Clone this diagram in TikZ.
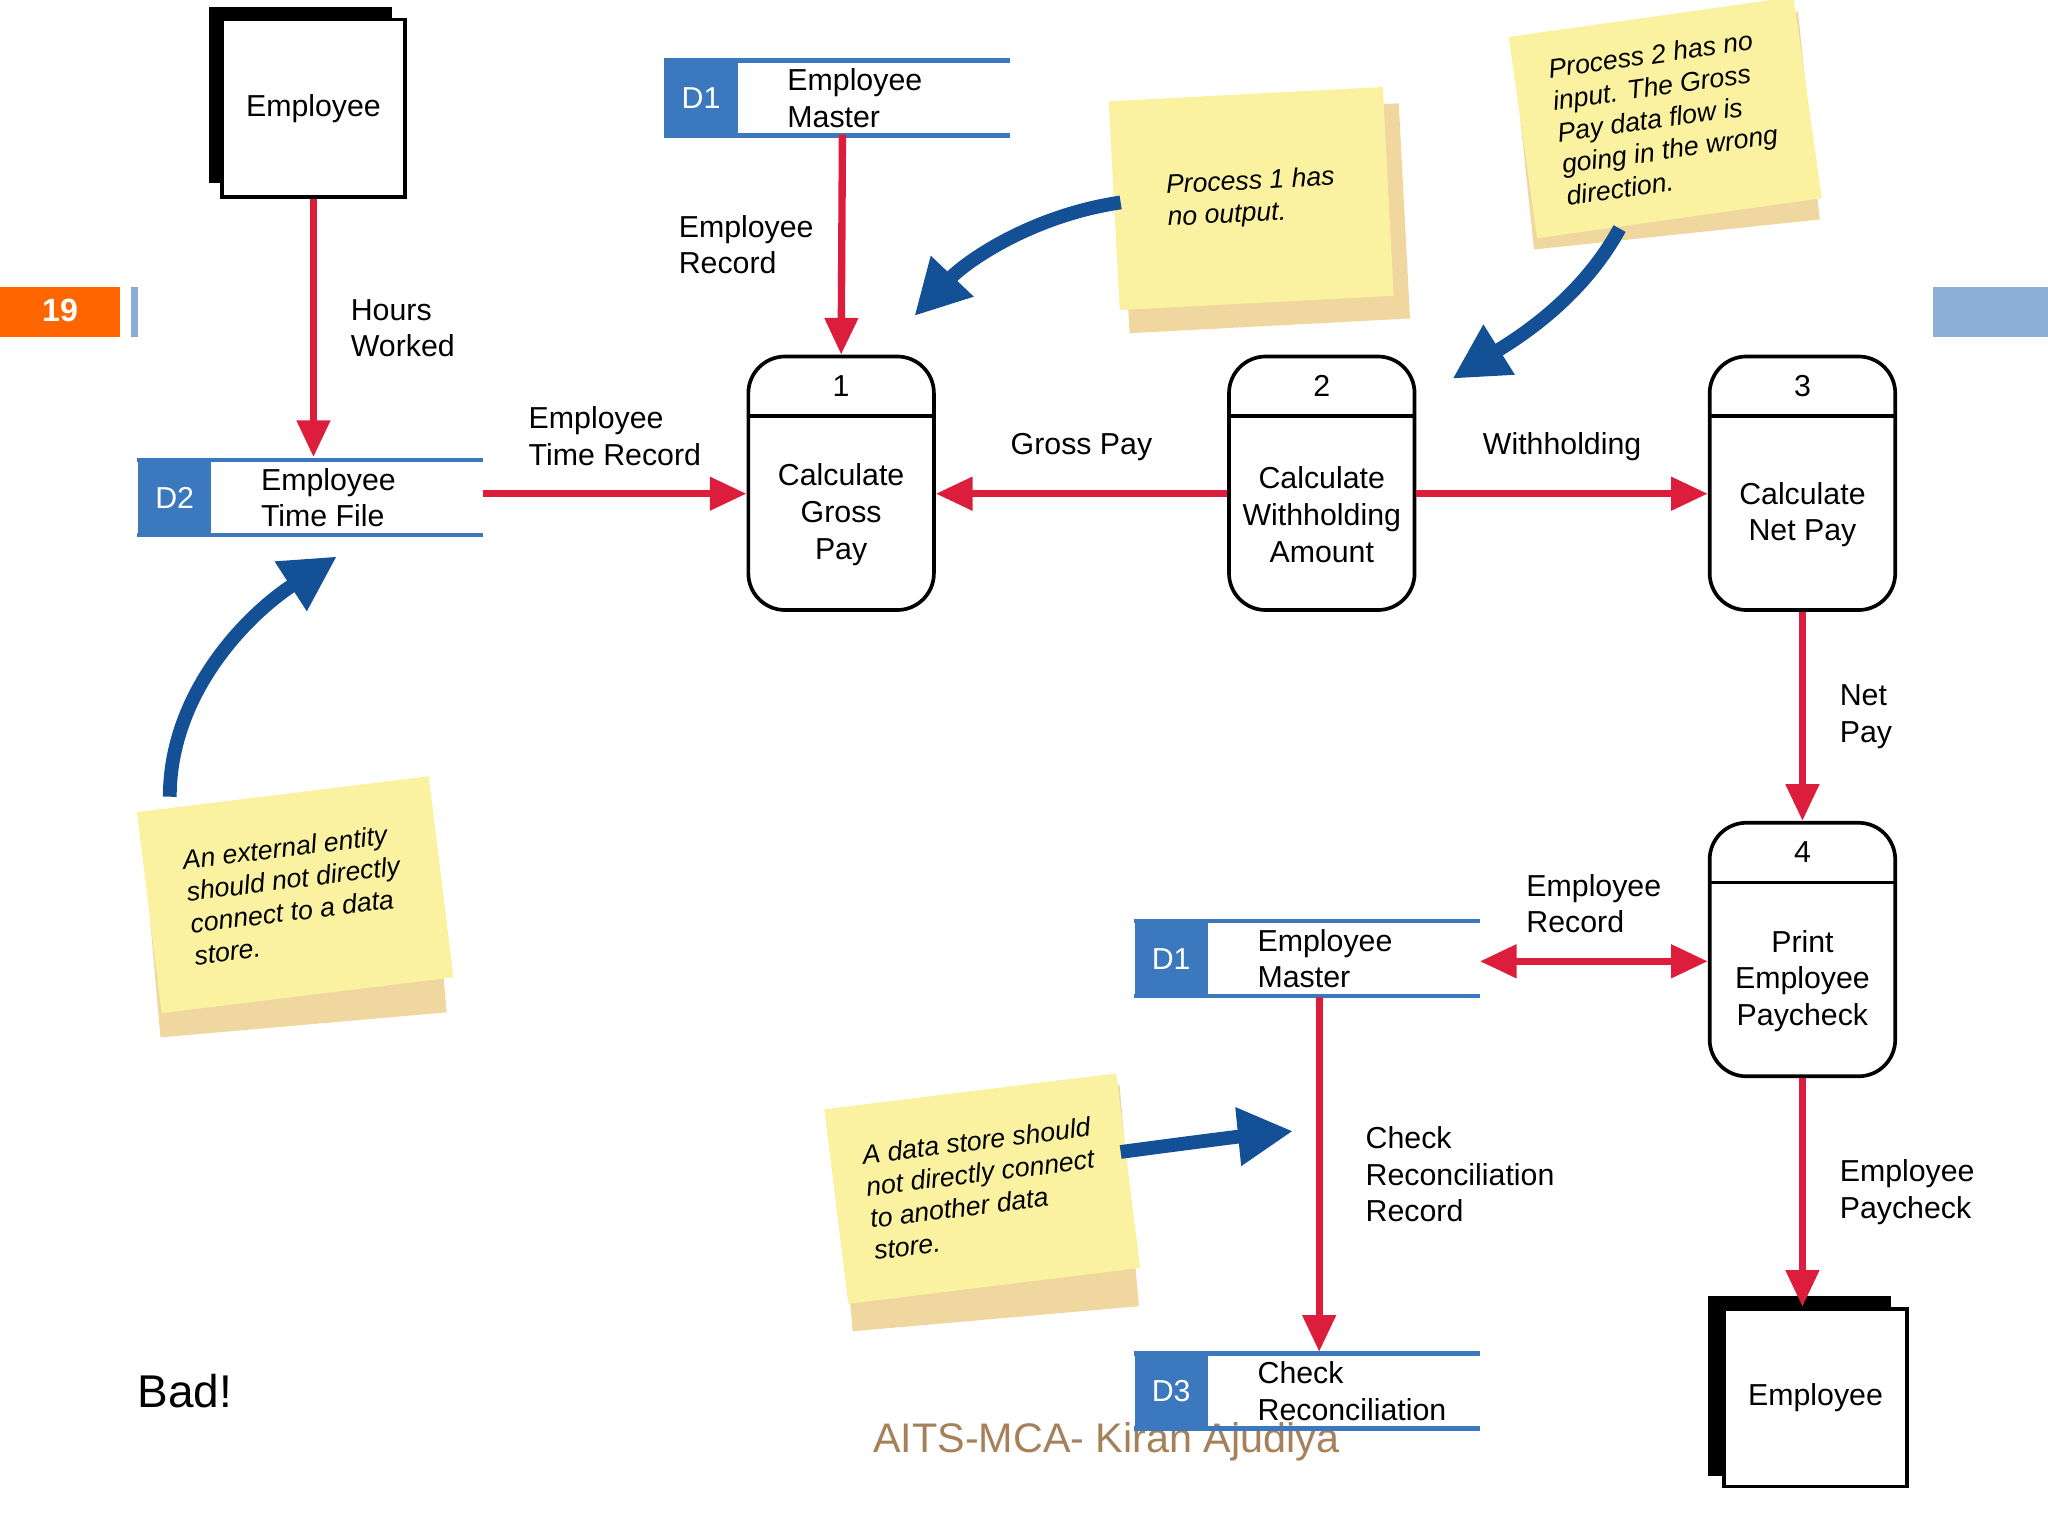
\documentclass[tikz,border=0pt]{standalone}
\usepackage{fontspec}
\setmainfont{Liberation Sans}
\usetikzlibrary{positioning, arrows.meta}
\definecolor{flowred}{RGB}{220,30,60}
\definecolor{storeblue}{RGB}{60,120,190}
\definecolor{noteyellow}{RGB}{250,242,160}
\definecolor{noteshadow}{RGB}{240,215,160}
\definecolor{arcblue}{RGB}{20,80,150}
\tikzset{
  flow/.style={draw=flowred, line width=1.6pt, -{Triangle[length=8pt,width=7pt]}},
  lbl/.style={font=\fontsize{6.6}{8}\selectfont, align=left},
  proc/.style={draw, rounded corners=8pt, line width=0.8pt, minimum width=1.42cm, minimum height=1.94cm, fill=white},
  entity/.style={draw, line width=0.8pt, minimum width=1.4cm, minimum height=1.36cm, fill=white, font=\fontsize{6.6}{8}\selectfont},
  storeid/.style={fill=storeblue, text=white, minimum width=0.56cm, minimum height=0.56cm, inner sep=0pt, font=\fontsize{6.6}{8}\selectfont},
  note/.style={fill=noteyellow, align=left, font=\fontsize{5.8}{7}\itshape, inner sep=6pt},
  hint/.style={draw=arcblue, line width=3pt, -{Triangle[length=12pt,width=12pt]}}
}
\begin{document}
\begin{tikzpicture}[x=0.01cm, y=-0.01cm]
\useasboundingbox (0,0) rectangle (1568,1176);

% slide furniture
\fill[orange!80!red] (0,220) rectangle (92,258);
\node[text=white, font=\bfseries\scriptsize] (num) at (46,238) {19};
\draw[storeblue!60, line width=1.5pt] (103,220) -- (103,258);
\fill[storeblue!60] (1480,220) rectangle (1568,258);
\node[font=\normalsize, anchor=west] (bad) at (93,1065) {Bad!};
\node[text=brown!60!gray, font=\small] (foot) at (847,1104) {AITS-MCA- Kiran Ajudiya};

% sticky notes
\fill[noteshadow, rotate around={3:(960,160)}] (860,85) rectangle (1075,250);
\node[note, rotate=3, minimum width=2.1cm, minimum height=1.6cm] (n1) at (958,152) {Process 1 has\\no output.};
\fill[noteshadow, rotate around={6:(1275,95)}] (1165,20) rectangle (1385,180);
\node[note, rotate=8, minimum width=2.2cm, minimum height=1.5cm] (n2) at (1275,90) {Process 2 has no\\input. The Gross\\Pay data flow is\\going in the wrong\\direction.};
\fill[noteshadow, rotate around={5:(225,700)}] (115,615) rectangle (335,785);
\node[note, rotate=7, minimum width=2.25cm, minimum height=1.55cm] (n3) at (226,685) {An external entity\\should not directly\\connect to a data\\store.};
\fill[noteshadow, rotate around={5:(755,925)}] (645,840) rectangle (865,1010);
\node[note, rotate=7, minimum width=2.25cm, minimum height=1.5cm] (n4) at (752,910) {A data store should\\not directly connect\\to another data\\store.};

% entities
\fill (160,5) rectangle (300,140);
\node[entity] (emp1) at (240,83) {Employee};
\fill (1308,992) rectangle (1448,1130);
\node[entity] (emp2) at (1390,1070) {Employee};

% processes
\foreach \nm/\x/\y/\id/\txt in {p1/644/370/1/Calculate\\Gross\\Pay, p2/1012/370/2/Calculate\\Withholding\\Amount, p3/1380/370/3/Calculate\\Net Pay, p4/1380/727/4/Print\\Employee\\Paycheck}{
  \node[proc] (\nm) at (\x,\y) {};
  \draw[line width=0.8pt] ([yshift=-0.47cm]\nm.north west) -- ([yshift=-0.47cm]\nm.north east);
  \node[lbl] at ([yshift=-0.24cm]\nm.north) {\id};
  \node[lbl, align=center] at ([yshift=-0.24cm]\nm.center) {\txt};
}

% data stores
\foreach \nm/\x/\y/\id/\txt in {d1/508/75/D1/Employee\\Master, d2/105/381/D2/Employee\\Time File, d1b/868/734/D1/Employee\\Master, d3/868/1065/D3/Check\\Reconciliation}{
  \node[storeid, anchor=west] (\nm) at (\x,\y) {\id};
  \draw[storeblue, line width=1pt] (\nm.north west) -- ++(265,0);
  \draw[storeblue, line width=1pt] (\nm.south west) -- ++(265,0);
  \node[lbl, anchor=west] at ([xshift=0.25cm]\nm.east) {\txt};
}
\coordinate (d1s) at (645,103);
\coordinate (d2e) at (370,378);
\coordinate (d2n) at (240,350);
\coordinate (d1be) at (1133,736);
\coordinate (d1bs) at (1010,763);
\coordinate (d3n) at (1010,1035);

% data flows
\draw[flow] (emp1.south) -- (d2n) node[lbl, midway, right=4pt] {Hours\\Worked};
\draw[flow] (d2e) -- (p1.west |- d2e) node[lbl, midway, above=2pt] {Employee\\Time Record};
\draw[flow] (d1s) -- (p1.north) node[lbl, midway, left=2pt] {Employee\\Record};
\draw[flow] (p2.west |- d2e) -- (p1.east |- d2e) node[lbl, midway, above=3pt] {Gross Pay};
\draw[flow] (p2.east |- d2e) -- (p3.west |- d2e) node[lbl, midway, above=3pt] {Withholding};
\draw[flow] (p3.south) -- (p4.north) node[lbl, midway, right=4pt] {Net\\Pay};
\draw[flow, {Triangle[length=8pt,width=7pt]}-{Triangle[length=8pt,width=7pt]}] (d1be) -- (p4.west |- d1be) node[lbl, midway, above=2pt] {Employee\\Record};
\draw[flow] (d1bs) -- (d3n) node[lbl, pos=0.5, right=6pt] {Check\\Reconciliation\\Record};
\draw[flow] (p4.south) -- (emp2.north -| p4.south) node[lbl, midway, right=4pt] {Employee\\Paycheck};

% hints
\coordinate (h1) at (700,242);
\coordinate (h2) at (1112,290);
\coordinate (h3) at (258,426);
\coordinate (h4) at (990,866);
\draw[hint] (858,155) .. controls (790,165) and (740,200) .. (h1);
\draw[hint] (1240,175) .. controls (1210,230) and (1160,260) .. (h2);
\draw[hint] (130,610) .. controls (130,530) and (190,470) .. (h3);
\draw[hint] (858,882) .. controls (910,875) and (950,870) .. (h4);
\end{tikzpicture}
\end{document}
